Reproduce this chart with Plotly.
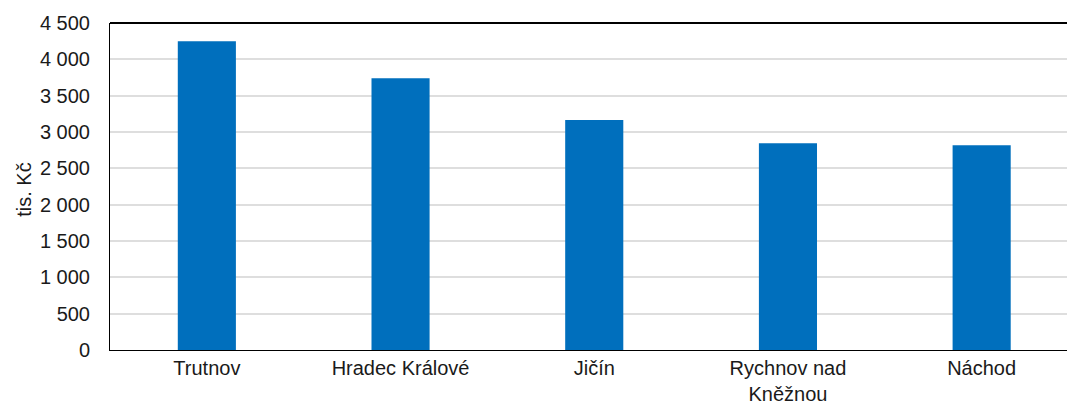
import plotly.graph_objects as go

categories = ["Trutnov", "Hradec Králové", "Jičín", "Rychnov nad<br>Kněžnou", "Náchod"]
values = [4250, 3740, 3165, 2846, 2818]
y_ticks = [0, 500, 1000, 1500, 2000, 2500, 3000, 3500, 4000, 4500]
y_title = "tis. Kč"

W, H = 1067, 407
ML, MR, MT, MB = 110, 0, 23, 57
step_px = 193.7
plot_w = W - ML - MR
x_span = plot_w / step_px

fig = go.Figure(
    go.Bar(
        x=list(range(len(categories))),
        y=values,
        marker=dict(color="#006fbd", line=dict(width=0)),
        width=0.3,
    )
)

font_family = "Liberation Sans, Arial, sans-serif"
FS = 20

fig.update_layout(
    width=W,
    height=H,
    margin=dict(l=ML, r=MR, t=MT, b=MB, autoexpand=False),
    paper_bgcolor="white",
    plot_bgcolor="white",
    separators=", ",
    showlegend=False,
    font=dict(family=font_family, size=FS, color="#1a1a1a"),
    xaxis=dict(
        tickmode="array",
        tickvals=list(range(len(categories))),
        ticktext=categories,
        range=[-0.5, -0.5 + x_span],
        showgrid=False,
        showline=True,
        linecolor="black",
        linewidth=1,
        ticks="",
        zeroline=False,
        automargin=False,
        tickfont=dict(size=FS),
    ),
    yaxis=dict(
        range=[0, 4500],
        tickvals=y_ticks,
        tickformat=",d",
        showgrid=True,
        gridcolor="#dedede",
        gridwidth=2,
        showline=True,
        linecolor="black",
        linewidth=1,
        zeroline=False,
        ticks="",
        automargin=False,
        ticklabelstandoff=15,
        tickfont=dict(size=FS),
    ),
    annotations=[
        dict(text=y_title, textangle=-90, xref="paper", yref="paper",
             x=-(ML - 24) / plot_w, y=0.49, xanchor="center", yanchor="middle",
             showarrow=False, font=dict(size=FS))
    ],
    shapes=[
        dict(type="line", xref="paper", yref="paper", x0=0, x1=1, y0=1, y1=1,
             line=dict(color="black", width=2))
    ],
)

fig.write_html("out.html", config={"displayModeBar": False},
               post_script="document.body.style.margin='0px';")
